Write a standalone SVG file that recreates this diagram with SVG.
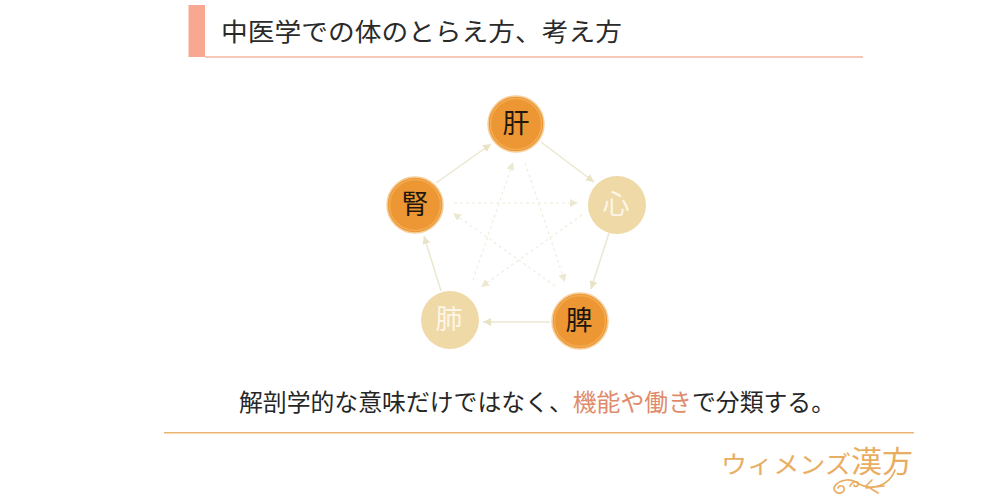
<svg xmlns="http://www.w3.org/2000/svg" width="1000" height="500" viewBox="0 0 1000 500">
<style>
text{font-family:"Noto Sans CJK JP","Noto Sans CJK SC",sans-serif}
.k{font-size:27px;fill:#1f1710;text-anchor:middle}
.w{font-size:27px;fill:#fdf6e6;text-anchor:middle}
.on{fill:#ec9733;stroke:#f6cf9c;stroke-width:1.500}
.off{fill:#efd9a6}
.ring{fill:none;stroke:#f3ab52;stroke-width:1.500}
.s{stroke:#ece7d0;stroke-width:1.500;fill:none;marker-end:url(#a)}
.d{stroke:#f0edde;stroke-width:1.200;stroke-dasharray:3 3;fill:none;marker-end:url(#b)}
.logo{fill:#e9ad62}
</style>
<defs>
<marker id="a" markerWidth="9" markerHeight="8" refX="8" refY="4" orient="auto" markerUnits="userSpaceOnUse"><path d="M0 0L8 4L0 8Z" fill="#e9e3c6"/></marker>
<marker id="b" markerWidth="9" markerHeight="8" refX="8" refY="4" orient="auto" markerUnits="userSpaceOnUse"><path d="M0 0L8 4L0 8Z" fill="#ece8d2"/></marker>
</defs>
<rect width="1000" height="500" fill="#fff"/>
<g id="header">
<rect x="188.500" y="5" width="16.500" height="52" fill="#f8a890"/>
<rect x="205" y="56" width="658" height="2" fill="#f7c8b8"/>
<text x="221" y="41" font-size="25.500" fill="#2a2a2a" textLength="401" lengthAdjust="spacingAndGlyphs">中医学での体のとらえ方、考え方</text>
</g>
<g id="connectors">
<path class="s" d="M541 142L594 182"/>
<path class="s" d="M609 233L591 289"/>
<path class="s" d="M550 322L483 322"/>
<path class="s" d="M441 291L424 236"/>
<path class="s" d="M436 183L491 144"/>
<path class="d" d="M454 203L578 203"/>
<path class="d" d="M582 215L481 287"/>
<path class="d" d="M555 286L453 213"/>
<path class="d" d="M473 280L513 162"/>
<path class="d" d="M525 163L565 282"/>
</g>
<g id="node-kan"><circle class="on" cx="516" cy="124" r="28"/><circle class="ring" cx="516" cy="124" r="25.500"/><text class="k" x="516" y="133">肝</text></g>
<g id="node-shin"><circle class="off" cx="617" cy="205" r="29"/><text class="w" x="616" y="214">心</text></g>
<g id="node-hi"><circle class="on" cx="580" cy="321" r="28"/><circle class="ring" cx="580" cy="321" r="25.500"/><text class="k" x="579" y="330">脾</text></g>
<g id="node-hai"><circle class="off" cx="450" cy="320" r="29"/><text class="w" x="449" y="329">肺</text></g>
<g id="node-jin"><circle class="on" cx="415" cy="205" r="28"/><circle class="ring" cx="415" cy="205" r="25.500"/><text class="k" x="415" y="214">腎</text></g>
<g id="caption">
<text x="239" y="411" font-size="23.500" fill="#262626" textLength="596" lengthAdjust="spacingAndGlyphs">解剖学的な意味だけではなく、<tspan fill="#e08a6c">機能や働き</tspan>で分類する。</text>
<rect x="164" y="432" width="750" height="1.500" fill="#e9b56f"/>
</g>
<g id="logo">
<text class="logo" x="721" y="473" font-size="24" textLength="130" lengthAdjust="spacingAndGlyphs">ウィメンズ</text>
<text class="logo" x="851" y="472" font-size="30" textLength="62" lengthAdjust="spacingAndGlyphs">漢方</text>
<path d="M895 470C891 481 884 486 872 487C860 488 856 479 847 480C837 481 832 487 835 491C838 495 845 493 844 488C843 485 839 485 838 488M850 486C853 480 860 481 858 485C857 487 854 487 854 485M866 488L884 486M866 486L872 480M870 488L878 493" fill="none" stroke="#e9ad62" stroke-width="1.700" stroke-linecap="round"/>
</g>
</svg>
